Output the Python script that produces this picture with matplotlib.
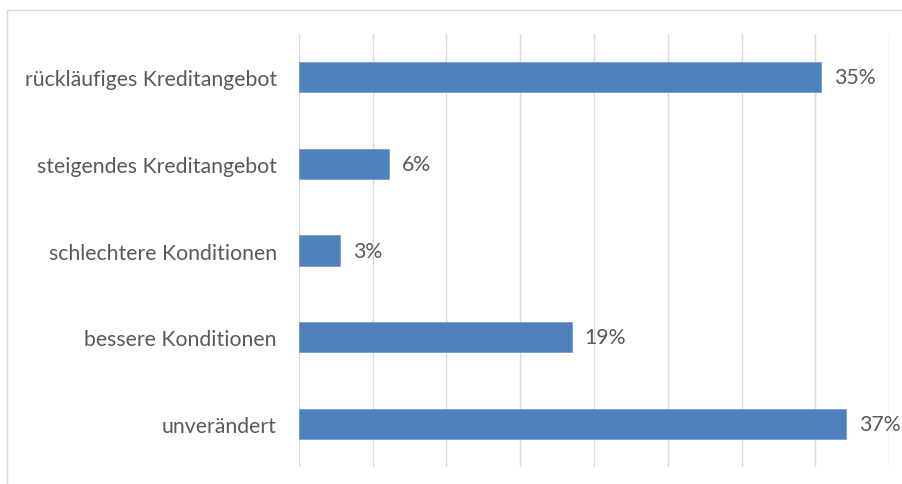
import matplotlib
matplotlib.use('Agg')
import matplotlib.pyplot as plt
from matplotlib.patches import Rectangle

categories = ['rückläufiges Kreditangebot', 'steigendes Kreditangebot',
              'schlechtere Konditionen', 'bessere Konditionen', 'unverändert']
values = [35.4, 6.1, 2.8, 18.5, 37.1]
value_labels = ['35%', '6%', '3%', '19%', '37%']

plt.rcParams['font.family'] = ['Lato', 'DejaVu Sans']
text_color = '#595959'

fig = plt.figure(figsize=(9.03, 4.85), dpi=100)
# light chart border
fig.patches.append(Rectangle((7 / 903, -0.01), 1.0, 1 - 11 / 485 + 0.01,
                             transform=fig.transFigure, fill=False,
                             edgecolor='#D9D9D9', linewidth=1.0))

ax = fig.add_axes([299 / 903, 1 - 468 / 485, (889 - 299) / 903, (468 - 35) / 485])

y = list(range(len(categories)))
ax.barh(y, values, height=0.35, color='#4F81BD', edgecolor='#6F9AD0', linewidth=0.5, zorder=3)
for yi, v, lab in zip(y, values, value_labels):
    ax.annotate(lab, (v, yi), xytext=(9, 0), textcoords='offset points',
                va='center', ha='left', fontsize=15.3, color=text_color)

ax.set_ylim(len(categories) - 0.5, -0.5)
ax.set_xlim(0, 40)
ax.set_xticks(range(0, 41, 5))
ax.xaxis.grid(True, color='#D9D9D9', linewidth=1.0)
ax.set_axisbelow(True)
ax.tick_params(axis='x', length=0, labelbottom=False)
ax.set_yticks(y)
ax.set_yticklabels(categories, fontsize=15.3, color=text_color)
ax.tick_params(axis='y', length=0, pad=16)
for s in ax.spines.values():
    s.set_visible(False)

fig.savefig('out.png', dpi=100)
